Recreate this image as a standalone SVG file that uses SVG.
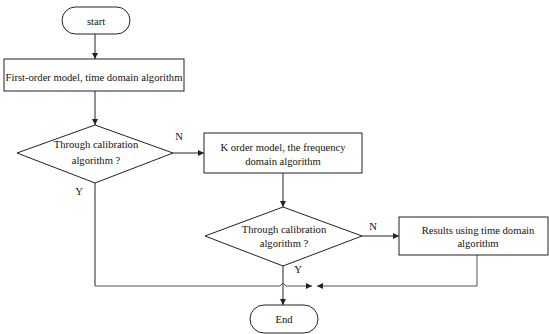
<svg xmlns="http://www.w3.org/2000/svg" width="549" height="334" viewBox="0 0 549 334">
<style>
.s{fill:#fff;stroke:#222;stroke-width:1}
text{font-family:'Liberation Serif','Times New Roman',serif;font-size:10.6px;fill:#111;text-anchor:middle}
.c{fill:none;stroke:#222;stroke-width:1}
.g{fill:none;stroke:#555;stroke-width:1}
</style>
<defs>
<marker id="a" viewBox="0 0 8 8" refX="8" refY="4" markerWidth="6" markerHeight="6" orient="auto" markerUnits="userSpaceOnUse"><path d="M0,0 L8,4 L0,8 z" fill="#222"/></marker>
</defs>
<rect width="549" height="334" fill="#fff"/>
<g id="connectors">
<path class="c" d="M95,34 V59" marker-end="url(#a)"/>
<path class="c" d="M95,91 V125" marker-end="url(#a)"/>
<path class="c" d="M173,153 H204" marker-end="url(#a)"/>
<path class="c" d="M283,173 V207" marker-end="url(#a)"/>
<path class="c" d="M362,236 H399" marker-end="url(#a)"/>
<path class="c" d="M283,266 V305" marker-end="url(#a)"/>
<path class="c" d="M95,183 V286"/>
<path class="g" d="M95,286 H280 L283,283 L286,286 H312" marker-end="url(#a)"/>
<path class="g" d="M477,255 V286 H317" marker-end="url(#a)"/>
</g>
<g id="start"><rect class="s" x="62" y="7" width="68" height="27" rx="13.5"/><text x="96" y="25">start</text></g>
<g id="box1"><rect class="s" x="4" y="59" width="180" height="32"/><text x="94" y="81">First-order model, time domain algorithm</text></g>
<g id="dec1"><polygon class="s" points="95,125 173,153 95,183 17,153"/><text x="96" y="148">Through calibration</text><text x="96" y="164">algorithm ?</text></g>
<g id="box2"><rect class="s" x="204" y="133" width="158" height="40"/><text x="283" y="151">K order model, the frequency</text><text x="283" y="165">domain algorithm</text></g>
<g id="dec2"><polygon class="s" points="283,207 362,236 283,266 205,236"/><text x="284" y="233">Through calibration</text><text x="284" y="247">algorithm ?</text></g>
<g id="box3"><rect class="s" x="399" y="217" width="149" height="38"/><text x="478" y="234">Results using time domain</text><text x="478" y="247">algorithm</text></g>
<g id="end"><rect class="s" x="250" y="305" width="68" height="28" rx="14"/><text x="284" y="323">End</text></g>
<g id="labels">
<text x="179" y="140">N</text>
<text x="79" y="195">Y</text>
<text x="373" y="230">N</text>
<text x="298" y="273">Y</text>
</g>
</svg>
